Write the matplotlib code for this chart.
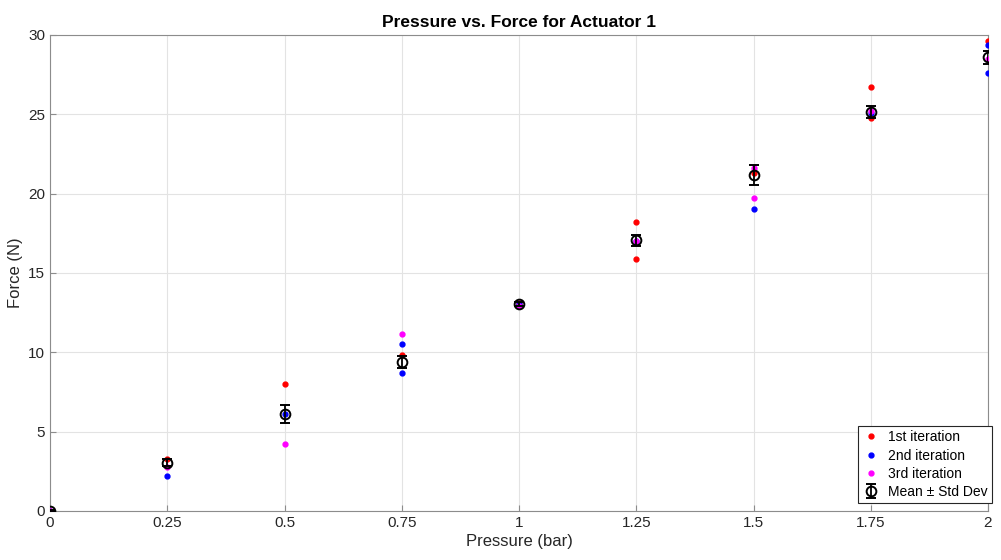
import numpy as np
import matplotlib.pyplot as plt

plt.rcParams['font.family'] = ['Liberation Sans', 'DejaVu Sans']

# pressure steps (bar)
pressure = [0, 0.25, 0.5, 0.75, 1, 1.25, 1.5, 1.75, 2]
xtick_labels = ['0', '0.25', '0.5', '0.75', '1', '1.25', '1.5', '1.75', '2']

# individual measurements per iteration (pressure, force)
iter1_p = [0, 0.25, 0.5, 0.75, 1, 1.25, 1.25, 1.5, 1.75, 1.75, 2]
iter1_f = [0, 3.25, 8.0, 9.85, 13.1, 18.2, 15.9, 21.3, 26.75, 24.75, 29.6]
iter2_p = [0, 0.25, 0.5, 0.75, 0.75, 1, 1.25, 1.5, 1.75, 2, 2]
iter2_f = [0, 2.2, 6.1, 10.5, 8.7, 13.05, 17.0, 19.05, 25.1, 29.35, 27.6]
iter3_p = [0, 0.25, 0.5, 0.75, 1, 1.25, 1.5, 1.5, 1.75, 2]
iter3_f = [0, 2.75, 4.25, 11.15, 12.95, 17.0, 19.75, 21.6, 25.2, 28.5]

# mean and standard deviation
mean_f = [0, 3.05, 6.1, 9.4, 13.05, 17.05, 21.2, 25.15, 28.6]
std_f = [0.05, 0.2, 0.55, 0.4, 0.1, 0.35, 0.63, 0.35, 0.4]

fig = plt.figure(figsize=(10.01, 5.6), dpi=100)
ax = fig.add_axes([50 / 1001, 1 - 511 / 560, 938 / 1001, 476 / 560])

ax.plot(iter1_p, iter1_f, '.', color='red', markersize=7, label='1st iteration', zorder=3)
ax.plot(iter2_p, iter2_f, '.', color='blue', markersize=7, label='2nd iteration', zorder=3)
ax.plot(iter3_p, iter3_f, '.', color='magenta', markersize=7, label='3rd iteration', zorder=3)
ax.errorbar(pressure, mean_f, yerr=std_f, fmt='o', color='black', mfc='none',
            markersize=7, mew=1.4, elinewidth=1.3, capsize=3.5, capthick=1.3,
            label='Mean ± Std Dev', zorder=4)

ax.set_xlim(0, 2)
ax.set_ylim(0, 30)
ax.set_xticks(pressure)
ax.set_xticklabels(xtick_labels)
ax.set_yticks([0, 5, 10, 15, 20, 25, 30])

ax.grid(True, color='#e3e3e3', linewidth=0.8)
ax.set_axisbelow(True)
for s in ax.spines.values():
    s.set_color('#8c8c8c')
    s.set_linewidth(0.8)
ax.tick_params(direction='in', length=4, color='#8c8c8c', labelcolor='#262626',
               labelsize=11, top=False, right=False)

ax.set_title('Pressure vs. Force for Actuator 1', fontsize=12.5, fontweight='bold', pad=6)
ax.set_xlabel('Pressure (bar)', fontsize=12, color='#262626', labelpad=3)
ax.set_ylabel('Force (N)', fontsize=12, color='#262626', labelpad=4)

leg = ax.legend(loc='lower right', bbox_to_anchor=(992 / 1001, 1 - 503 / 560),
                bbox_transform=fig.transFigure, borderaxespad=0, fontsize=10,
                frameon=True, fancybox=False, edgecolor='#262626', framealpha=1,
                borderpad=0.3, labelspacing=0.3, handletextpad=0.6, handlelength=1.3)
leg.get_frame().set_linewidth(0.8)

fig.savefig('out.png', dpi=100)
